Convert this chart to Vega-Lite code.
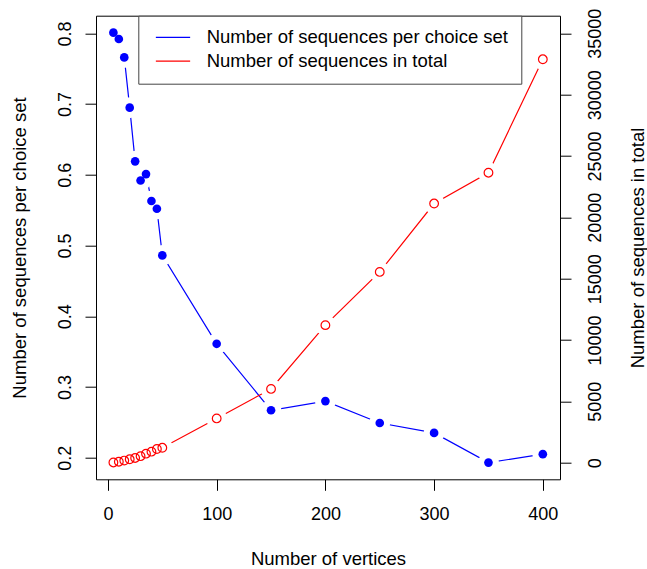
{
  "$schema": "https://vega.github.io/schema/vega-lite/v6.json",
  "autosize": {"type": "none"},
  "padding": {"left": 96, "top": 15.7, "right": 87, "bottom": 89.7},
  "width": 464,
  "height": 463.6,
  "background": "white",
  "config": {
    "view": {"stroke": "black", "strokeWidth": 1},
    "font": "Liberation Sans",
    "axis": {
      "domain": false,
      "grid": false,
      "ticks": true,
      "tickColor": "black",
      "tickSize": 11,
      "tickWidth": 1,
      "labelFont": "Liberation Sans",
      "labelFontSize": 18,
      "labelColor": "black",
      "labelOverlap": false,
      "labelFlush": false,
      "titleFont": "Liberation Sans",
      "titleFontSize": 18.5,
      "titleFontWeight": "normal",
      "titleColor": "black"
    }
  },
  "data": {
    "values": [
      {"x": 5, "per": 0.801, "total": 20},
      {"x": 10, "per": 0.792, "total": 79},
      {"x": 15, "per": 0.766, "total": 172},
      {"x": 20, "per": 0.695, "total": 278},
      {"x": 25, "per": 0.619, "total": 387},
      {"x": 30, "per": 0.592, "total": 532},
      {"x": 35, "per": 0.601, "total": 736},
      {"x": 40, "per": 0.563, "total": 901},
      {"x": 45, "per": 0.552, "total": 1117},
      {"x": 50, "per": 0.486, "total": 1216},
      {"x": 100, "per": 0.361, "total": 3610},
      {"x": 150, "per": 0.267, "total": 6012},
      {"x": 200, "per": 0.280, "total": 11212},
      {"x": 250, "per": 0.249, "total": 15550},
      {"x": 300, "per": 0.235, "total": 21123},
      {"x": 350, "per": 0.193, "total": 23637},
      {"x": 400, "per": 0.205, "total": 32880}
    ]
  },
  "layer": [
    {
      "encoding": {
        "x": {
          "field": "x",
          "type": "quantitative",
          "scale": {"domain": [-11, 415.8], "nice": false, "zero": false},
          "axis": {
            "values": [0, 100, 200, 300, 400],
            "title": "Number of vertices",
            "labelBaseline": "alphabetic",
            "labelPadding": 29.5,
            "titleX": 232,
            "titleY": 85.3,
            "titleBaseline": "alphabetic",
            "titleAlign": "center"
          }
        },
        "y": {
          "field": "per",
          "type": "quantitative",
          "scale": {"domain": [0.1694, 0.825], "nice": false, "zero": false},
          "axis": {
            "orient": "left",
            "values": [0.2, 0.3, 0.4, 0.5, 0.6, 0.7, 0.8],
            "format": ".1f",
            "labelAngle": -90,
            "labelAlign": "center",
            "labelBaseline": "alphabetic",
            "labelPadding": 15,
            "title": "Number of sequences per choice set",
            "titleAngle": -90,
            "titleX": -71,
            "titleY": 231.8,
            "titleAlign": "center",
            "titleBaseline": "alphabetic"
          }
        }
      },
      "layer": [
        {
          "mark": {"type": "line", "strokeWidth": 1.2},
          "encoding": {
            "color": {
              "datum": "Number of sequences per choice set",
              "type": "nominal",
              "scale": {
                "domain": ["Number of sequences per choice set", "Number of sequences in total"],
                "range": ["#0000FF", "#FF0000"]
              },
              "legend": {
                "orient": "none",
                "legendX": 42.3,
                "legendY": 0,
                "title": null,
                "symbolType": "stroke",
                "symbolSize": 1176,
                "symbolStrokeWidth": 1.2,
                "labelFont": "Liberation Sans",
                "labelFontSize": 18.5,
                "labelColor": "black",
                "labelLimit": 0,
                "clipHeight": 18,
                "padding": 12.7,
                "rowPadding": 4.7,
                "labelOffset": 15.7,
                "symbolOffset": 4,
                "strokeColor": "#444444",
                "fillColor": "white"
              }
            }
          }
        },
        {
          "mark": {"type": "point", "filled": true, "color": "white", "size": 441, "opacity": 1}
        },
        {
          "mark": {"type": "point", "filled": true, "color": "#0000FF", "size": 75, "opacity": 1}
        }
      ]
    },
    {
      "encoding": {
        "x": {"field": "x", "type": "quantitative", "scale": {"domain": [-11, 415.8], "nice": false, "zero": false}},
        "y": {
          "field": "total",
          "type": "quantitative",
          "scale": {"domain": [-1353, 36434], "nice": false, "zero": false},
          "axis": {
            "orient": "right",
            "values": [0, 5000, 10000, 15000, 20000, 25000, 30000, 35000],
            "format": "d",
            "labelAngle": -90,
            "labelAlign": "center",
            "labelBaseline": "alphabetic",
            "labelPadding": 29.5,
            "title": "Number of sequences in total",
            "titleAngle": -90,
            "titleX": 83.5,
            "titleY": 231.8,
            "titleAlign": "center",
            "titleBaseline": "alphabetic"
          }
        }
      },
      "layer": [
        {
          "mark": {"type": "line", "strokeWidth": 1.2},
          "encoding": {
            "color": {"datum": "Number of sequences in total", "type": "nominal"}
          }
        },
        {
          "mark": {"type": "point", "filled": true, "color": "white", "size": 441, "opacity": 1}
        },
        {
          "mark": {"type": "point", "filled": false, "color": "#FF0000", "strokeWidth": 1.2, "size": 75, "opacity": 1}
        }
      ]
    }
  ],
  "resolve": {"scale": {"y": "independent"}}
}
